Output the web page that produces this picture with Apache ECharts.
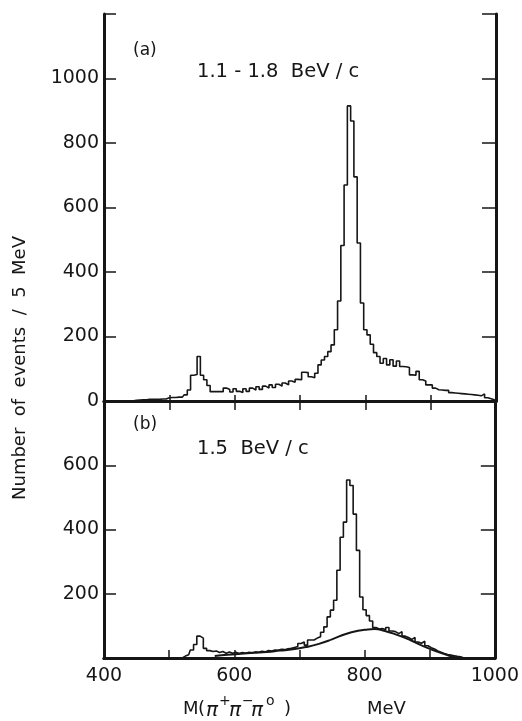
<!DOCTYPE html>
<html>
<head>
<meta charset="utf-8">
<script src="https://cdn.jsdelivr.net/npm/echarts@6/dist/echarts.min.js"></script>
<style>
html,body{margin:0;padding:0;background:#fff;}
#chart{width:522px;height:721px;}
</style>
</head>
<body>
<div id="chart"></div>
<script>
// Bin centres (MeV), 5 MeV bins
const binCenters = [400,405,410,415,420,425,430,435,440,445,450,455,460,465,470,475,480,485,490,495,
500,505,510,515,520,525,530,535,540,545,550,555,560,565,570,575,580,585,590,595,
600,605,610,615,620,625,630,635,640,645,650,655,660,665,670,675,680,685,690,695,
700,705,710,715,720,725,730,735,740,745,750,755,760,765,770,775,780,785,790,795,
800,805,810,815,820,825,830,835,840,845,850,855,860,865,870,875,880,885,890,895,
900,905,910,915,920,925,930,935,940,945,950,955,960,965,970,975,980,985,990,995,1000];

// Panel (a): 1.1 - 1.8 BeV/c
const countsA = [1,1,1,1,1,1,1,1,1,1,2,3,4,4,5,5,5,5,6,6,
10,11,11,12,12,19,34,80,82,138,80,66,48,29,29,29,29,40,36,28,
38,30,26,38,30,40,34,44,36,46,40,50,42,52,46,56,50,62,58,67,
66,89,88,75,72,86,112,127,138,153,174,221,310,482,670,915,868,695,490,304,
221,205,176,150,138,117,132,112,128,108,124,107,106,104,81,80,92,66,62,50,
50,40,35,34,33,33,26,25,24,23,22,21,20,19,18,16,22,10,7,4,3];

// Panel (b): 1.5 BeV/c
const countsB = [0,0,0,0,0,0,0,0,0,0,0,0,0,0,0,0,0,0,0,0,
0,0,0,0,0,6,10,25,42,68,62,30,23,20,22,17,20,15,19,15,
18,14,17,15,18,16,19,18,21,19,23,22,25,24,27,26,29,30,33,36,
45,50,40,56,56,62,66,80,97,128,149,180,273,376,423,554,537,448,335,190,
150,132,115,95,90,92,88,95,84,82,76,82,68,64,58,64,50,46,52,38,
32,28,22,18,14,11,9,7,5,4,0,0,0,0,0,0,0,0,0,0,0];

// Smooth background curve in panel (b)
const fitMass = [570,590,610,630,650,670,690,710,730,750,770,790,805,815,830,850,870,890,910,930,945];
const fitValues = [6,10,13,16,19,23,27,34,44,58,74,85,89,90,85,72,56,37,21,7,0];

const xTicks = [400,600,800,1000];

const chart = echarts.init(document.getElementById('chart'), null, {renderer:'canvas'});
const FONT = 'DejaVu Sans';
const INK = '#161616';
const frame = {show:true, lineStyle:{color:INK, width:3}};

function xAx(grid, pos, showLabel, tickLen){
  return {
    type:'value', gridIndex:grid, position:pos, min:400, max:1000, interval:100,
    axisLine:frame, splitLine:{show:false},
    axisTick:{show:tickLen>0, inside:true, length:tickLen, lineStyle:{color:INK,width:1.5}},
    axisLabel:{show:showLabel, color:INK, fontFamily:FONT, fontSize:19, margin:9,
      formatter:function(v){return xTicks.indexOf(v)>=0 ? String(v) : '';}}
  };
}
function yAx(grid, pos, max, showLabel, tickLen, shown){
  return {
    type:'value', gridIndex:grid, position:pos, min:0, max:max, interval:200,
    axisLine:frame, splitLine:{show:false},
    axisTick:{show:true, inside:true, length:tickLen, lineStyle:{color:INK,width:1.5}},
    axisLabel:{show:showLabel, color:INK, fontFamily:FONT, fontSize:19, margin:5,
      formatter:function(v){return shown.indexOf(v)>=0 ? String(v) : '';}}
  };
}

const T = (l,t,txt,size,style) => ({type:'text', left:l, top:t, silent:true,
  style:{text:txt, font:(style||'')+' '+size+'px "DejaVu Sans"', fill:INK}});

const option = {
  animation:false,
  backgroundColor:'#fff',
  grid:[
    {left:104, top:14, width:392, height:387},
    {left:104, top:401, width:392, height:257}
  ],
  xAxis:[
    xAx(0,'bottom',false,6),
    xAx(0,'top',false,9),
    xAx(1,'bottom',true,8),
    xAx(1,'top',false,0)
  ],
  yAxis:[
    yAx(0,'left',1200,true,12,[0,200,400,600,800,1000]),
    yAx(0,'right',1200,false,14,[]),
    yAx(1,'left',800,true,12,[200,400,600]),
    yAx(1,'right',800,false,14,[])
  ],
  series:[
    {type:'line', xAxisIndex:0, yAxisIndex:0, step:'middle', symbol:'none',
     lineStyle:{color:INK, width:1.6}, data:binCenters.map((m,i)=>[m,countsA[i]])},
    {type:'line', xAxisIndex:2, yAxisIndex:2, step:'middle', symbol:'none',
     lineStyle:{color:INK, width:1.6}, data:binCenters.map((m,i)=>[m,countsB[i]])},
    {type:'line', xAxisIndex:2, yAxisIndex:2, smooth:true, symbol:'none',
     lineStyle:{color:INK, width:2}, data:fitMass.map((m,i)=>[m,fitValues[i]])}
  ],
  graphic:[
    T(133,42,'(a)',17),
    T(197,62,'1.1 - 1.8  BeV / c',19.5),
    T(133,416,'(b)',17),
    T(197,439,'1.5  BeV / c',19.5),
    // x-axis title pieces
    T(183,700,'M',18),
    T(198,700,'(',18),
    T(206,701,'π',20,'italic'),
    T(219,694,'+',14),
    T(229,701,'π',20,'italic'),
    T(242,694,'−',14),
    T(251,701,'π',20,'italic'),
    T(266,694,'o',14),
    T(284,700,')',18),
    T(367,700,'MeV',18),
    {type:'text', x:20, y:368, rotation:Math.PI/2, silent:true,
     style:{text:'Number  of  events  /  5  MeV', font:'18px "DejaVu Sans"', fill:INK,
            align:'center', verticalAlign:'middle'}}
  ]
};
chart.setOption(option);
</script>
</body>
</html>
